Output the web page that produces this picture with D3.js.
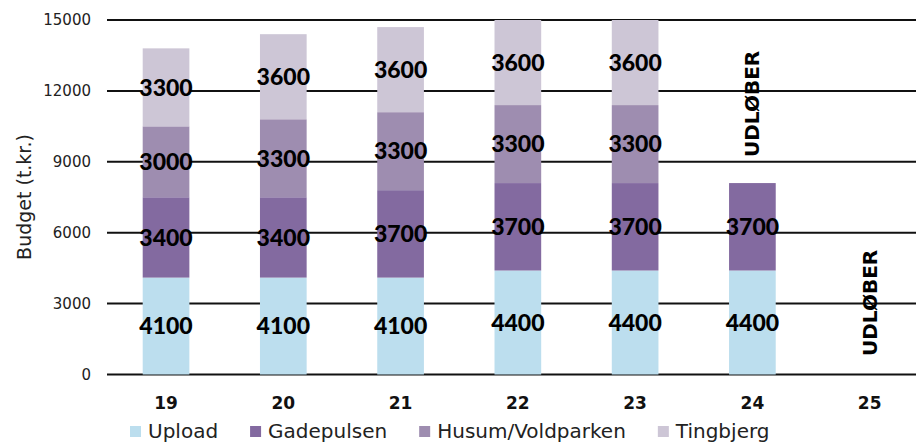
<!DOCTYPE html>
<html>
  <head>
    <meta charset="utf-8">
    <title>Budget</title>
    <style>
      body { margin: 0; background: #fff; }
      svg { display: block; }
    </style>
  </head>
  <body>
    <div id="chart"></div>
    <script src="https://cdn.jsdelivr.net/npm/d3@7"></script>
    <script>

        var years = ["19", "20", "21", "22", "23", "24", "25"];
        var upload      = [4100, 4100, 4100, 4400, 4400, 4400, 0];
        var gadepulsen  = [3400, 3400, 3700, 3700, 3700, 3700, 0];
        var husum       = [3000, 3300, 3300, 3300, 3300, 0, 0];
        var tingbjerg   = [3300, 3600, 3600, 3600, 3600, 0, 0];
        var seriesNames = ["Upload", "Gadepulsen", "Husum/Voldparken", "Tingbjerg"];
        var yTicks = [0, 3000, 6000, 9000, 12000, 15000];
        // "UDLØBER" notes (year, value where the text is centred)
        var noteYears = ["24", "25"];
        var noteValues = [11450, 3030];

        var colors = ["#bcdeee", "#836aa0", "#9e8db0", "#cdc6d6"];

        var width = 916;
        var height = 444;

        var rows = years.map(function(y, i) {
          return { year: y, Upload: upload[i], Gadepulsen: gadepulsen[i],
                   "Husum/Voldparken": husum[i], Tingbjerg: tingbjerg[i] };
        });

        var svg = d3.select('#chart')
          .append('svg')
          .attr('width', width)
          .attr('height', height);

        var x = d3.scaleBand()
          .domain(years)
          .range([107.4, 928.3])
          .paddingInner(0.602)
          .paddingOuter(0.301);

        var y = d3.scaleLinear()
          .domain([0, 15000])
          .range([374.5, 20]);

        var color = d3.scaleOrdinal().domain(seriesNames).range(colors);

        // gridlines (behind the bars)
        svg.append('g')
          .selectAll('line')
          .data(yTicks)
          .enter()
          .append('line')
          .attr('x1', 107)
          .attr('x2', width)
          .attr('y1', function(d) { return y(d); })
          .attr('y2', function(d) { return y(d); })
          .attr('stroke', '#111')
          .attr('stroke-width', 2);

        // y tick labels
        svg.append('g')
          .selectAll('text')
          .data(yTicks)
          .enter()
          .append('text')
          .attr('x', 91)
          .attr('y', function(d) { return y(d); })
          .attr('dy', '0.36em')
          .attr('text-anchor', 'end')
          .style('font-family', 'DejaVu Sans')
          .style('font-size', '15px')
          .style('fill', '#222')
          .text(function(d) { return d; });

        // y axis title
        svg.append('text')
          .attr('transform', 'translate(31,' + 197 + ') rotate(-90)')
          .attr('text-anchor', 'middle')
          .style('font-family', 'DejaVu Sans')
          .style('font-size', '19px')
          .style('fill', '#222')
          .text('Budget (t.kr.)');

        var stack = d3.stack().keys(seriesNames);
        var layers = stack(rows);

        var groups = svg.selectAll('g.layer')
          .data(layers)
          .enter()
          .append('g')
          .attr('class', 'layer')
          .attr('fill', function(d) { return color(d.key); });

        groups.selectAll('rect')
          .data(function(d) { return d; })
          .enter()
          .append('rect')
          .attr('x', function(d) { return x(d.data.year); })
          .attr('width', x.bandwidth())
          .attr('y', function(d) { return y(d[1]); })
          .attr('height', function(d) { return y(d[0]) - y(d[1]); });

        // value labels
        var labels = [];
        layers.forEach(function(layer) {
          layer.forEach(function(d) {
            var v = d[1] - d[0];
            if (v > 0) labels.push({ year: d.data.year, mid: (d[0] + d[1]) / 2, v: v });
          });
        });

        svg.append('g')
          .selectAll('text')
          .data(labels)
          .enter()
          .append('text')
          .attr('x', function(d) { return x(d.year) + x.bandwidth() / 2; })
          .attr('y', function(d) { return y(d.mid); })
          .attr('dy', '0.36em')
          .attr('text-anchor', 'middle')
          .style('font-family', 'Lato')
          .style('font-weight', '900')
          .style('font-size', '23px')
          .style('fill', '#000')
          .text(function(d) { return d.v; });

        // UDLØBER notes
        svg.append('g')
          .selectAll('text')
          .data(noteYears)
          .enter()
          .append('text')
          .attr('transform', function(d, i) {
            return 'translate(' + (x(d) + x.bandwidth() / 2 + 7) + ',' + y(noteValues[i]) + ') rotate(-90)';
          })
          .attr('text-anchor', 'middle')
          .style('font-family', 'DejaVu Sans')
          .style('font-weight', 'bold')
          .style('font-size', '20px')
          .style('fill', '#000')
          .text('UDLØBER');

        // x tick labels
        svg.append('g')
          .selectAll('text')
          .data(years)
          .enter()
          .append('text')
          .attr('x', function(d) { return x(d) + x.bandwidth() / 2; })
          .attr('y', 409)
          .attr('text-anchor', 'middle')
          .style('font-family', 'DejaVu Sans')
          .style('font-weight', 'bold')
          .style('font-size', '17px')
          .style('fill', '#111')
          .text(function(d) { return d; });

        // legend
        var legend = svg.append('g');
        var lx = 130;
        seriesNames.forEach(function(name) {
          legend.append('rect')
            .attr('x', lx)
            .attr('y', 426)
            .attr('width', 11)
            .attr('height', 11)
            .attr('fill', color(name));
          var t = legend.append('text')
            .attr('x', lx + 18)
            .attr('y', 438)
            .style('font-family', 'DejaVu Sans')
            .style('font-size', '20px')
            .style('fill', '#222')
            .text(name);
          lx += 18 + t.node().getComputedTextLength() + 32;
        });

    </script>
  </body>
</html>
